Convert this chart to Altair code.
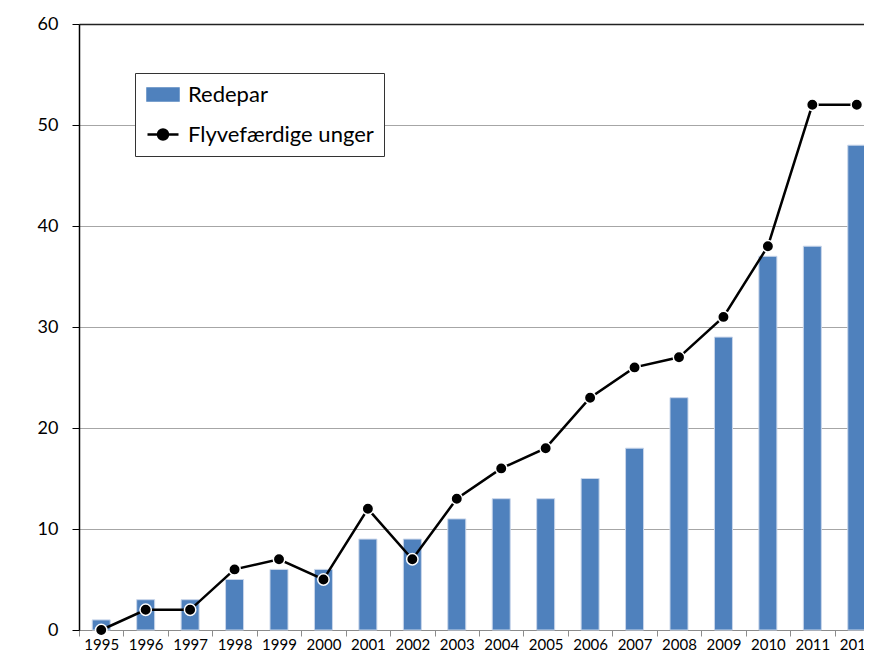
import altair as alt
import pandas as pd

years = [str(y) for y in range(1995, 2013)]
redepar = [1, 3, 3, 5, 6, 6, 9, 9, 11, 13, 13, 15, 18, 23, 29, 37, 38, 48]
unger = [0, 2, 2, 6, 7, 5, 12, 7, 13, 16, 18, 23, 26, 27, 31, 38, 52, 52]
series_names = ["Redepar", "Flyvefærdige unger"]
y_ticks = [0, 10, 20, 30, 40, 50, 60]

df = pd.DataFrame({"year": years, "redepar": redepar, "unger": unger})

FONT = "Lato"
BLUE = "#4f81bd"

color_scale = alt.Scale(domain=series_names, range=[BLUE, "black"])
legend = alt.Legend(
    title=None,
    orient="none",
    legendX=56,
    legendY=49,
    fillColor="white",
    strokeColor="#333333",
    padding=10,
    labelFont=FONT,
    labelFontSize=22,
    labelLimit=400,
    labelColor="black",
    labelOffset=20,
    symbolSize=400,
    rowPadding=17,
    symbolType={"expr": "datum.value === 'Redepar' ? 'M-0.9,-0.6H2.2V0.6H-0.9Z' : 'M-0.9,0H2.2M0.15,0A0.5,0.5,0,1,0,1.15,0A0.5,0.5,0,1,0,0.15,0Z'"},
    symbolFillColor={"expr": "datum.value === 'Redepar' ? '#4f81bd' : 'black'"},
    symbolStrokeColor={"expr": "datum.value === 'Redepar' ? 'transparent' : 'black'"},
    symbolStrokeWidth=2.5,
)

x_enc = alt.X(
    "year:N",
    sort=years,
    scale=alt.Scale(paddingInner=0, paddingOuter=0, range=[0, 800]),
    axis=alt.Axis(
        title=None,
        labelAngle=0,
        labelFont=FONT,
        labelFontSize=15,
        labelColor="black",
        labelPadding=1,
        tickBand="extent",
        tickSize=6,
        tickColor="#8c8c8c",
        domainColor="#8c8c8c",
        grid=False,
    ),
)

base = alt.Chart(df)

bars = base.mark_bar(size=18, stroke="#c9d6ea", strokeWidth=1).transform_calculate(
    series="'Redepar'"
).encode(
    x=x_enc,
    y=alt.Y(
        "redepar:Q",
        scale=alt.Scale(domain=[0, 60], nice=False),
        axis=alt.Axis(
            title=None,
            values=y_ticks,
            labelFont=FONT,
            labelFontSize=18,
            labelColor="black",
            labelPadding=14,
            tickSize=7,
            tickColor="black",
            domainColor="black",
            domainWidth=1.5,
            grid=True,
            gridColor={"condition": {"test": "datum.value === 60", "value": "#222222"}, "value": "#a6a6a6"},
            gridWidth={"condition": {"test": "datum.value === 60", "value": 1.5}, "value": 1},
        ),
    ),
    color=alt.Color("series:N", scale=color_scale, legend=legend),
)

line = base.mark_line(
    strokeWidth=2.5,
    point=alt.OverlayMarkDef(filled=True, size=130, fill="black", stroke="white", strokeWidth=1.5, opacity=1),
).transform_calculate(
    series="'Flyvefærdige unger'"
).encode(
    x=x_enc,
    y=alt.Y("unger:Q"),
    color=alt.Color("series:N", scale=color_scale, legend=legend),
)

chart = alt.layer(bars, line).properties(
    width=785,
    height=606,
    autosize=alt.AutoSizeParams(type="none"),
    padding={"left": 71, "top": 16, "right": 0, "bottom": 21},
).configure_view(stroke=None)

chart.save("out.html", embed_options={"renderer": "svg", "actions": False})
